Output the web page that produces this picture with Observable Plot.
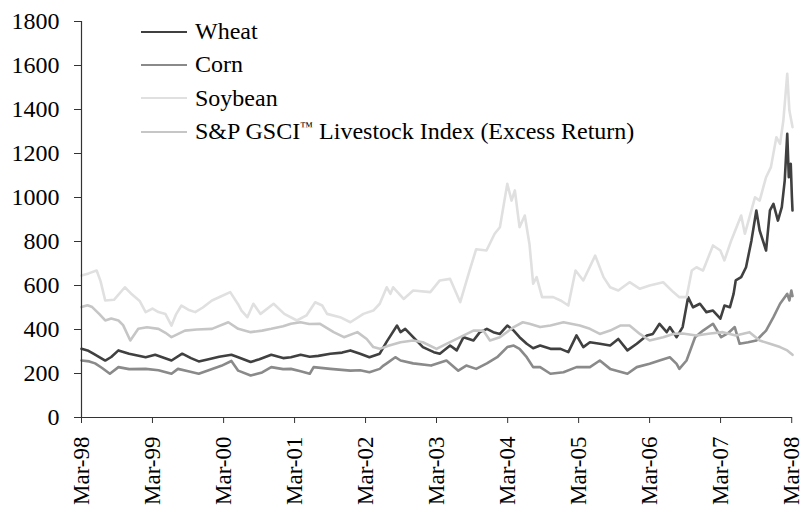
<!DOCTYPE html>
<html><head><meta charset="utf-8">
<script src="https://cdn.jsdelivr.net/npm/d3@7"></script>
<script src="https://cdn.jsdelivr.net/npm/@observablehq/plot@0.6"></script>
<style>
html,body{margin:0;padding:0;background:#fff;}
#wrap{position:relative;width:802px;height:510px;overflow:hidden;font-family:"Liberation Serif","Times New Roman",serif;}
#legend{position:absolute;left:141px;top:15px;}
.row{display:flex;align-items:center;height:33.3px;font-size:24px;color:#000;white-space:nowrap;}
.sw{width:46px;height:2px;margin-right:8px;}
.tm{font-size:0.55em;vertical-align:0.6em;}
</style></head><body><div id="wrap"><div id="chart"></div><div id="legend"></div></div>
<script>
const seriesNames = ["Wheat", "Corn", "Soybean", "S&P GSCI\u2122 Livestock Index (Excess Return)"];
const seriesColors = ["#404040", "#8a8a8a", "#e0e0e0", "#c6c6c6"];

const wheatDates = ["1998-03-01","1998-04-01","1998-05-01","1998-07-01","1998-08-01","1998-09-07","1998-11-01","1999-01-25","1999-03-15","1999-06-07","1999-08-01","1999-09-15","1999-10-25","1999-12-15","2000-02-07","2000-04-10","2000-05-15","2000-07-18","2000-09-01","2000-11-01","2001-01-01","2001-02-10","2001-04-01","2001-05-18","2001-07-01","2001-09-01","2001-11-01","2001-12-13","2002-02-01","2002-03-21","2002-05-13","2002-06-18","2002-08-10","2002-08-28","2002-09-21","2002-11-01","2002-12-21","2003-02-15","2003-03-18","2003-05-10","2003-06-13","2003-07-18","2003-09-07","2003-10-10","2003-11-15","2003-12-18","2004-01-21","2004-02-28","2004-04-01","2004-05-01","2004-06-07","2004-07-10","2004-08-15","2004-10-07","2004-11-28","2005-01-07","2005-02-18","2005-03-25","2005-04-28","2005-06-18","2005-08-10","2005-09-21","2005-11-07","2005-12-25","2006-02-15","2006-03-18","2006-04-21","2006-05-28","2006-06-13","2006-07-18","2006-08-18","2006-09-15","2006-10-10","2006-11-15","2006-12-18","2007-01-21","2007-02-28","2007-03-21","2007-04-18","2007-05-07","2007-05-18","2007-06-15","2007-07-10","2007-08-07","2007-09-01","2007-09-18","2007-10-21","2007-11-10","2007-11-28","2007-12-21","2008-01-10","2008-01-25","2008-02-07","2008-02-15","2008-02-25","2008-03-02","2008-03-05"];
const wheatValues = [312,305,290,259,275,305,290,274,285,259,290,270,255,265,276,285,274,252,265,285,270,274,285,276,280,290,295,305,290,274,290,345,418,388,403,365,320,297,290,327,305,365,350,388,403,388,380,418,395,365,335,315,327,312,312,297,373,320,342,335,327,357,305,335,373,380,426,388,411,365,411,547,501,517,479,486,449,509,501,562,623,638,683,805,941,850,759,941,971,895,956,1077,1289,1092,1153,1001,941];

const cornDates = ["1998-03-01","1998-04-10","1998-05-10","1998-06-15","1998-07-25","1998-09-07","1998-11-01","1999-01-25","1999-04-01","1999-06-07","1999-07-10","1999-09-01","1999-10-25","1999-12-15","2000-02-18","2000-04-10","2000-05-15","2000-07-18","2000-09-15","2000-11-01","2001-01-01","2001-02-10","2001-04-01","2001-05-18","2001-06-07","2001-09-01","2001-12-13","2002-02-01","2002-03-21","2002-05-13","2002-06-01","2002-06-18","2002-08-01","2002-08-28","2002-11-01","2003-02-01","2003-04-21","2003-06-21","2003-08-01","2003-09-21","2003-11-15","2004-01-07","2004-02-28","2004-04-01","2004-05-01","2004-06-07","2004-07-10","2004-08-15","2004-10-07","2004-12-13","2005-02-18","2005-04-28","2005-06-18","2005-08-10","2005-11-07","2005-12-25","2006-03-01","2006-04-21","2006-06-13","2006-07-18","2006-08-01","2006-09-07","2006-10-21","2006-12-01","2007-01-21","2007-03-04","2007-04-07","2007-05-13","2007-06-07","2007-07-21","2007-09-01","2007-10-21","2007-11-28","2008-01-01","2008-02-07","2008-02-18","2008-02-28","2008-03-05"];
const cornValues = [259,255,246,225,199,229,220,221,215,199,221,210,199,215,235,257,213,191,205,229,220,221,210,199,229,221,213,215,206,221,236,246,274,259,246,236,259,213,236,221,246,274,320,327,312,274,229,229,199,206,229,229,259,221,199,229,244,259,274,244,221,259,365,395,426,365,382,411,335,342,350,395,456,517,562,532,577,552];

const soyDates = ["1998-03-01","1998-04-07","1998-05-18","1998-06-07","1998-07-01","1998-08-15","1998-10-10","1998-11-15","1998-12-25","1999-01-25","1999-03-01","1999-04-01","1999-05-07","1999-06-07","1999-07-01","1999-07-28","1999-09-01","1999-10-07","1999-11-15","2000-01-01","2000-02-15","2000-04-04","2000-05-15","2000-06-01","2000-07-01","2000-08-01","2000-09-07","2000-11-13","2001-01-07","2001-03-13","2001-05-01","2001-06-15","2001-07-21","2001-08-15","2001-10-21","2001-12-13","2002-02-18","2002-04-10","2002-05-13","2002-06-18","2002-07-07","2002-07-21","2002-09-13","2002-11-01","2003-01-28","2003-03-18","2003-05-10","2003-07-01","2003-08-18","2003-09-21","2003-11-13","2003-12-25","2004-01-21","2004-02-28","2004-03-21","2004-04-07","2004-05-01","2004-05-28","2004-06-21","2004-07-10","2004-07-28","2004-08-25","2004-10-21","2004-11-28","2005-01-07","2005-02-13","2005-03-25","2005-05-25","2005-07-07","2005-08-10","2005-09-21","2005-11-18","2006-01-10","2006-03-01","2006-05-10","2006-07-01","2006-08-01","2006-09-07","2006-10-04","2006-10-28","2006-12-01","2007-01-21","2007-02-28","2007-03-21","2007-04-25","2007-06-15","2007-07-04","2007-08-25","2007-09-18","2007-10-21","2007-11-15","2007-12-13","2008-01-01","2008-01-18","2008-02-07","2008-02-18","2008-03-05"];
const soyValues = [645,655,668,620,532,535,592,560,530,479,495,479,470,418,470,509,490,479,500,532,550,570,514,486,456,517,471,517,471,441,464,524,509,471,456,433,471,486,517,592,562,592,539,577,570,623,630,524,668,765,759,835,865,1062,986,1032,865,918,789,608,638,547,547,532,509,668,623,736,638,592,577,615,585,600,615,570,547,547,668,683,668,782,759,714,805,918,835,1001,986,1092,1138,1274,1244,1350,1562,1395,1320];

const liveDates = ["1998-03-01","1998-04-01","1998-04-25","1998-06-01","1998-07-01","1998-08-01","1998-09-07","1998-10-01","1998-11-07","1998-12-18","1999-02-01","1999-04-01","1999-05-07","1999-06-07","1999-08-15","1999-10-15","2000-01-01","2000-03-25","2000-05-15","2000-07-18","2000-09-15","2000-11-01","2001-01-01","2001-02-10","2001-04-01","2001-05-15","2001-07-10","2001-09-18","2001-11-10","2002-01-18","2002-03-07","2002-04-10","2002-05-13","2002-07-01","2002-08-28","2002-11-01","2002-12-21","2003-03-01","2003-04-21","2003-07-01","2003-09-07","2003-10-28","2003-12-01","2004-01-21","2004-04-01","2004-05-18","2004-06-21","2004-08-15","2004-10-07","2004-12-13","2005-03-07","2005-04-28","2005-06-18","2005-08-10","2005-10-01","2005-11-18","2006-01-10","2006-03-01","2006-05-10","2006-07-01","2006-08-18","2006-10-28","2007-01-07","2007-03-13","2007-05-18","2007-07-28","2007-09-18","2007-11-10","2008-01-01","2008-02-07","2008-03-05"];
const liveValues = [502,510,502,470,441,450,441,420,350,403,410,403,385,365,395,400,403,433,403,388,395,403,415,426,433,425,426,388,365,388,357,320,312,327,342,350,342,312,335,365,395,395,350,365,411,433,426,411,418,433,418,403,380,395,418,418,380,350,365,380,382,373,382,388,373,388,350,335,320,305,285];

const yTicks = [0,200,400,600,800,1000,1200,1400,1600,1800];
const xTickDates = ["1998-03-01","1999-03-01","2000-03-01","2001-03-01","2002-03-01","2003-03-01","2004-03-01","2005-03-01","2006-03-01","2007-03-01","2008-03-01"];
const xTickLabels = ["Mar-98","Mar-99","Mar-00","Mar-01","Mar-02","Mar-03","Mar-04","Mar-05","Mar-06","Mar-07","Mar-08"];

const seriesDates = [wheatDates, cornDates, soyDates, liveDates];
const seriesValues = [wheatValues, cornValues, soyValues, liveValues];
const data = seriesNames.flatMap((name, k) =>
  seriesDates[k].map((d, i) => ({series: name, date: new Date(d + "T00:00:00Z"), value: seriesValues[k][i]})));

const xStart = new Date("1998-03-01T00:00:00Z");
const xEnd = new Date("2008-03-05T00:00:00Z");
const tickDateObjs = xTickDates.map(d => new Date(d + "T00:00:00Z"));
const labelMap = new Map(tickDateObjs.map((d, i) => [+d, xTickLabels[i]]));

const chart = Plot.plot({
  width: 802, height: 510,
  marginLeft: 81, marginRight: 10, marginTop: 21, marginBottom: 93,
  style: {fontFamily: '"Liberation Serif","Times New Roman",serif', fontSize: "24px", color: "#000", background: "#fff", overflow: "visible"},
  x: {type: "utc", domain: [xStart, xEnd]},
  y: {domain: [0, 1800]},
  color: {domain: seriesNames, range: seriesColors},
  marks: [
    Plot.axisY({ticks: yTicks, tickFormat: d => String(d), tickSize: 7, tickPadding: 15, label: null, stroke: "#333", fontSize: 24}),
    Plot.axisX({ticks: tickDateObjs, tickFormat: d => labelMap.get(+d), tickRotate: -90, tickSize: 6, tickPadding: 13, label: null, stroke: "#333", fontSize: 23}),
    Plot.line(data, {x: "date", y: "value", z: "series", stroke: "series", strokeWidth: 2.6, strokeLinejoin: "round"}),
    Plot.ruleY([0], {stroke: "#333", strokeWidth: 1.2}),
    Plot.ruleX([xStart], {stroke: "#333", strokeWidth: 1.2})
  ]
});
document.getElementById("chart").appendChild(chart);

const legend = document.getElementById("legend");
seriesNames.forEach((name, k) => {
  const row = document.createElement("div");
  row.className = "row";
  const sw = document.createElement("div");
  sw.className = "sw";
  sw.style.background = seriesColors[k];
  const tx = document.createElement("span");
  const parts = name.split("\u2122");
  tx.appendChild(document.createTextNode(parts[0]));
  if (parts.length > 1) {
    const tm = document.createElement("span");
    tm.className = "tm";
    tm.textContent = "\u2122";
    tx.appendChild(tm);
    tx.appendChild(document.createTextNode(parts[1]));
  }
  row.appendChild(sw);
  row.appendChild(tx);
  legend.appendChild(row);
});
</script>
</body></html>
